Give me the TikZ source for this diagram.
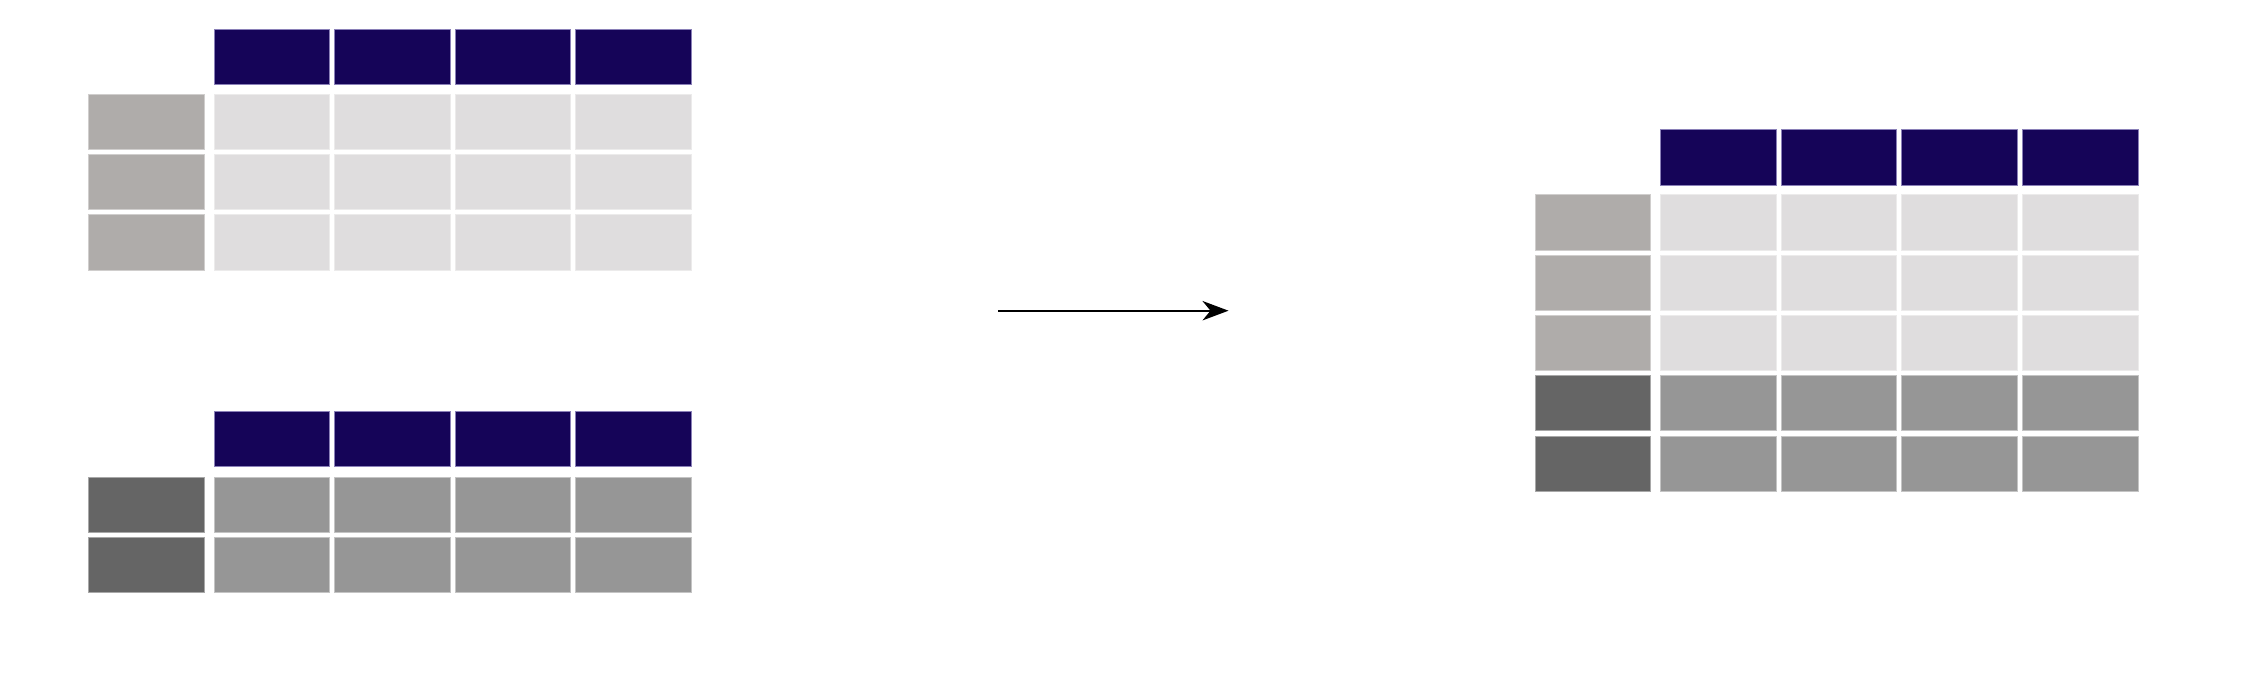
\documentclass[tikz,border=0pt]{standalone}
\usetikzlibrary{arrows.meta}
\definecolor{hdr}{HTML}{150458}
\definecolor{hdrb}{HTML}{8A80B8}
\definecolor{lcell}{HTML}{DFDDDE}
\definecolor{lcellb}{HTML}{ECEBEB}
\definecolor{lidx}{HTML}{AFACAA}
\definecolor{lidxb}{HTML}{D0CECD}
\definecolor{dcell}{HTML}{969696}
\definecolor{dcellb}{HTML}{C4C4C4}
\definecolor{didx}{HTML}{656565}
\definecolor{didxb}{HTML}{A8A8A8}
\tikzset{
  cell/.style={rectangle, inner sep=0pt, minimum width=57.85pt, minimum height=27.65pt, line width=0.5pt},
  hcell/.style={cell, fill=hdr, draw=hdrb},
  lc/.style={cell, fill=lcell, draw=lcellb},
  li/.style={cell, fill=lidx, draw=lidxb},
  dc/.style={cell, fill=dcell, draw=dcellb},
  di/.style={cell, fill=didx, draw=didxb},
  conn/.style={line width=0.9pt, -{Stealth[length=13pt, width=9.7pt, inset=4pt]}}
}
\begin{document}
\begin{tikzpicture}[x=0.5pt, y=-0.5pt]
\useasboundingbox (0,0) rectangle (2245,687);
% top-left table
\foreach \c/\cx in {1/271.85, 2/392.45, 3/513.05, 4/633.6} {
  \node[hcell] (a-h\c) at (\cx,56.7) {};
  \foreach \r/\cy in {1/121.7, 2/182.1, 3/242.4} {
    \node[lc] (a-r\r c\c) at (\cx,\cy) {};
  }
}
\foreach \r/\cy in {1/121.7, 2/182.1, 3/242.4} {
  \node[li] (a-i\r) at (146.5,\cy) {};
}
% bottom-left table
\foreach \c/\cx in {1/271.85, 2/392.45, 3/513.05, 4/633.6} {
  \node[hcell] (b-h\c) at (\cx,439.3) {};
  \foreach \r/\cy in {1/504.8, 2/565} {
    \node[dc] (b-r\r c\c) at (\cx,\cy) {};
  }
}
\foreach \r/\cy in {1/504.8, 2/565} {
  \node[di] (b-i\r) at (146.5,\cy) {};
}
% right table
\foreach \c/\cx in {1/1718.2, 2/1838.9, 3/1959.5, 4/2080.2} {
  \node[hcell] (c-h\c) at (\cx,157.5) {};
  \foreach \r/\cy in {1/222.5, 2/282.75, 3/343} {
    \node[lc] (c-r\r c\c) at (\cx,\cy) {};
  }
  \foreach \r/\cy in {4/403.25, 5/463.7} {
    \node[dc] (c-r\r c\c) at (\cx,\cy) {};
  }
}
\foreach \r/\cy in {1/222.5, 2/282.75, 3/343} {
  \node[li] (c-i\r) at (1592.9,\cy) {};
}
\foreach \r/\cy in {4/403.25, 5/463.7} {
  \node[di] (c-i\r) at (1592.9,\cy) {};
}
% arrow
\coordinate (s) at (998,310.7);
\coordinate (t) at (1228.5,310.7);
\draw[conn] (s) -- (t);
\end{tikzpicture}
\end{document}
